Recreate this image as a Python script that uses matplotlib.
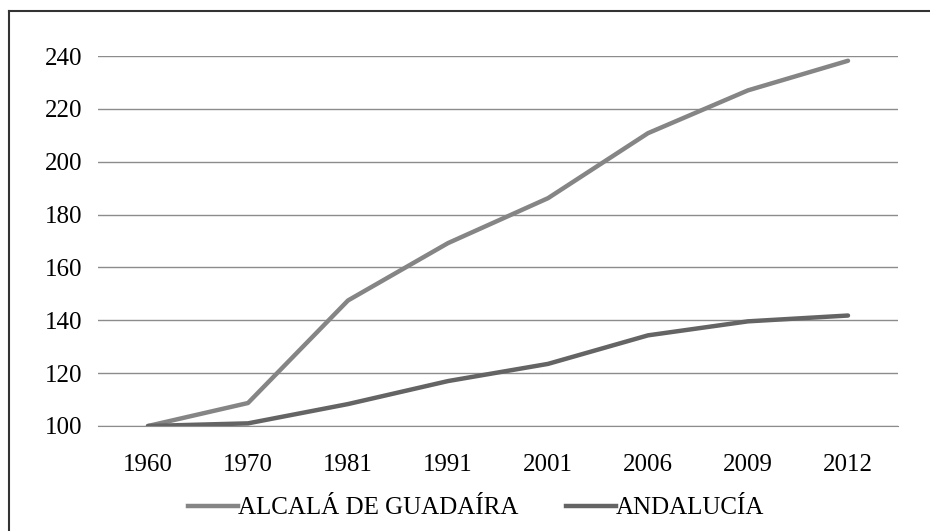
import matplotlib.pyplot as plt
from matplotlib.lines import Line2D

# datos (índice base 1960 = 100)
years = ['1960', '1970', '1981', '1991', '2001', '2006', '2009', '2012']
alcala = [100, 108.7, 147.5, 169.2, 186.2, 210.8, 227.0, 238.2]
andalucia = [100, 101.0, 108.3, 117.0, 123.5, 134.3, 139.6, 141.8]

plt.rcParams['font.family'] = ['Liberation Serif', 'DejaVu Serif']

fig = plt.figure(figsize=(9.3, 5.31), dpi=100)
ax = fig.add_axes([98 / 930, 1 - 426 / 531, 800 / 930, 370 / 531])

x = range(len(years))
ax.plot(x, alcala, color='#858585', linewidth=3.2, solid_capstyle='round',
        label='ALCALÁ DE GUADAÍRA', zorder=3)
ax.plot(x, andalucia, color='#646464', linewidth=3.2, solid_capstyle='round',
        label='ANDALUCÍA', zorder=3)

ax.set_xlim(-0.5, len(years) - 0.5)
ax.set_ylim(100, 240)
ax.set_yticks(range(100, 241, 20))
ax.set_xticks(list(x))
ax.set_xticklabels(years)
ax.yaxis.grid(True, color='#8c8c8c', linewidth=1.0)
ax.set_axisbelow(True)
for s in ['top', 'right', 'left']:
    ax.spines[s].set_visible(False)
ax.spines['bottom'].set_color('#8c8c8c')
ax.tick_params(axis='both', length=0, labelsize=18, colors='black')
ax.tick_params(axis='y', pad=11)
ax.tick_params(axis='x', pad=20)

handles = [Line2D([], [], color='#858585', linewidth=3.2),
           Line2D([], [], color='#646464', linewidth=3.2)]
fig.legend(handles, ['ALCALÁ DE GUADAÍRA', 'ANDALUCÍA'], loc='center',
           bbox_to_anchor=(476 / 930, 1 - 508 / 531), ncol=2, frameon=False,
           fontsize=18, handlelength=2.0, handletextpad=0.0, columnspacing=1.9)

# marco del gráfico (recortado a la derecha y abajo)
fig.add_artist(Line2D([9 / 930, 9 / 930], [0, 1 - 11 / 531], color='#333333',
                      linewidth=1.5, transform=fig.transFigure))
fig.add_artist(Line2D([9 / 930, 1], [1 - 11 / 531, 1 - 11 / 531], color='#333333',
                      linewidth=1.5, transform=fig.transFigure))

fig.savefig('out.png', dpi=100)
